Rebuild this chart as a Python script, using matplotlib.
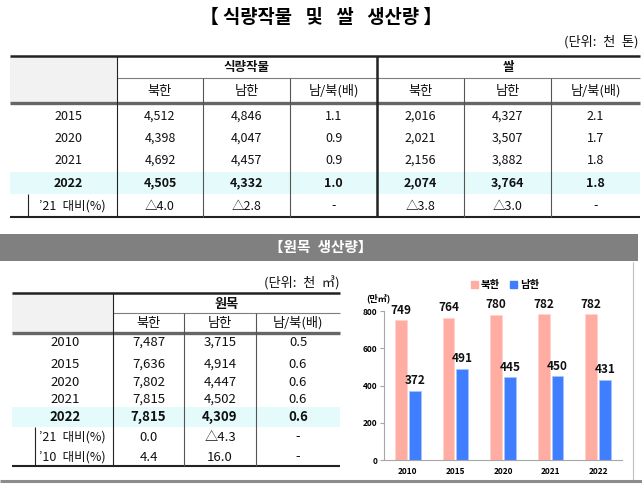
import numpy as np
import matplotlib
matplotlib.use('Agg')
import matplotlib.pyplot as plt
from matplotlib.patches import Patch, Rectangle

plt.rcParams['font.family'] = ['Noto Sans CJK KR', 'DejaVu Sans']

# 식량작물 및 쌀 생산량 (단위: 천 톤)
years1 = ['2015', '2020', '2021', '2022']
grain_north = [4512, 4398, 4692, 4505]
grain_south = [4846, 4047, 4457, 4332]
grain_ratio = [1.1, 0.9, 0.9, 1.0]
rice_north = [2016, 2021, 2156, 2074]
rice_south = [4327, 3507, 3882, 3764]
rice_ratio = [2.1, 1.7, 1.8, 1.8]
change1_label = '’21\u2002대비(%)'
change1 = ['△4.0', '△2.8', '-', '△3.8', '△3.0', '-']

# 원목 생산량 (단위: 천 ㎥)
years2 = ['2010', '2015', '2020', '2021', '2022']
wood_north = [7487, 7636, 7802, 7815, 7815]
wood_south = [3715, 4914, 4447, 4502, 4309]
wood_ratio = [0.5, 0.6, 0.6, 0.6, 0.6]
change2_labels = ['’21\u2002대비(%)', '’10\u2002대비(%)']
change2 = [['0.0', '△4.3', '-'], ['4.4', '16.0', '-']]

# 차트 (만㎥)
chart_years = ['2010', '2015', '2020', '2021', '2022']
chart_north = [749, 764, 780, 782, 782]
chart_south = [372, 491, 445, 450, 431]

sub_cols = ['북한', '남한', '남/북(배)']

W, H = 642, 486
fig = plt.figure(figsize=(W / 100, H / 100), dpi=100)
ax = fig.add_axes([0, 0, 1, 1])
ax.set_xlim(0, W)
ax.set_ylim(H, 0)
ax.axis('off')

dark = '#222222'
grey = '#7f7f7f'
fs = 9

def hline(y, x0, x1, c=dark, lw=0.8):
    ax.plot([x0, x1], [y, y], color=c, lw=lw, solid_capstyle='butt')

def vline(x, y0, y1, c=dark, lw=0.8):
    ax.plot([x, x], [y0, y1], color=c, lw=lw, solid_capstyle='butt')

def txt(x, y, s, size=fs, weight='normal', ha='center', color='#111111'):
    ax.text(x, y, s, fontsize=size, fontweight=weight, ha=ha, va='center', color=color)

# ---------- table 1 ----------
gap = '\u2002 '
title1 = '【 ' + gap.join(['식량작물', '및', '쌀', '생산량']) + ' 】'
ax.text(321, 17, title1, fontsize=13.5, fontweight='bold', ha='center', va='center', color='#000000')
txt(638, 42, '(단위:\u2002천\u2002톤)', size=9.5, ha='right')

t_top, t_mid, t_hdr, t_bot = 56, 78, 103, 217
cols1 = [117, 203, 290, 377, 464, 551, 640]
ax.add_patch(Rectangle((10, t_top), 107, t_hdr - t_top, color='#f2f2f2', lw=0))
ax.add_patch(Rectangle((10, 172), 630, 22, color='#e5fbfb', lw=0))
hline(t_top, 10, 640, lw=1.8)
hline(t_mid, 117, 640, c=grey)
hline(t_hdr, 10, 640, c='#666666', lw=2.4)
hline(t_bot, 10, 640, lw=1.5)
vline(117, t_top, t_bot)
vline(377, t_top, t_bot, lw=1.8)
for x in [203, 290, 464, 551]:
    vline(x, t_mid, t_bot, c='#555555')
vline(28, 194, t_bot)

txt((117 + 377) / 2, 67, '식량작물', weight='bold')
txt((377 + 640) / 2, 67, '쌀', weight='bold')
for g in range(2):
    for i, s in enumerate(sub_cols):
        c0, c1 = cols1[g * 3 + i], cols1[g * 3 + i + 1]
        txt((c0 + c1) / 2, 91, s, size=9.5)

row_y1 = [116, 138, 160, 183]
for r, yr in enumerate(years1):
    w = 'bold' if yr == '2022' else 'normal'
    vals = [f'{grain_north[r]:,}', f'{grain_south[r]:,}', f'{grain_ratio[r]:.1f}',
            f'{rice_north[r]:,}', f'{rice_south[r]:,}', f'{rice_ratio[r]:.1f}']
    txt(68, row_y1[r], yr, weight=w)
    for c, v in enumerate(vals):
        txt((cols1[c] + cols1[c + 1]) / 2, row_y1[r], v, weight=w)
txt(72, 206, change1_label, size=9)
for c, v in enumerate(change1):
    txt((cols1[c] + cols1[c + 1]) / 2, 206, v)

# ---------- section band ----------
ax.add_patch(Rectangle((0, 234), 638, 27, color='#808080', lw=0))
ax.text(321, 247, '【원목\u2002생산량】', fontsize=10.5, fontweight='bold',
        ha='center', va='center', color='white')

# ---------- table 2 ----------
txt(340, 283, '(단위:\u2002천\u2002㎥)', size=9.5, ha='right')
b_top, b_mid, b_hdr, b_bot = 293, 313, 333, 466
cols2 = [113, 184, 256, 340]
ax.add_patch(Rectangle((12, b_top), 101, b_hdr - b_top, color='#f2f2f2', lw=0))
ax.add_patch(Rectangle((12, 407), 328, 20, color='#e5fbfb', lw=0))
hline(b_top, 12, 340, lw=1.8)
hline(b_mid, 113, 340, c=grey)
hline(b_hdr, 12, 340, c='#666666', lw=2.4)
hline(b_bot, 12, 340, lw=1.5)
vline(113, b_top, b_bot)
for x in [184, 256]:
    vline(x, b_mid, b_bot, c='#555555')
vline(35, 427, b_bot)

txt((113 + 340) / 2, 304, '원목', weight='bold', size=9.5)
for i, s in enumerate(sub_cols):
    txt((cols2[i] + cols2[i + 1]) / 2, 323, s, size=9.5)

row_y2 = [342, 364, 382, 399, 417]
for r, yr in enumerate(years2):
    w = 'bold' if yr == '2022' else 'normal'
    vals = [f'{wood_north[r]:,}', f'{wood_south[r]:,}', f'{wood_ratio[r]:.1f}']
    txt(65, row_y2[r], yr, weight=w, size=9.5)
    for c, v in enumerate(vals):
        txt((cols2[c] + cols2[c + 1]) / 2, row_y2[r], v, weight=w, size=9.5)
for k, lab in enumerate(change2_labels):
    y = 437 + k * 20
    txt(72, y, lab, size=9)
    for c, v in enumerate(change2[k]):
        txt((cols2[c] + cols2[c + 1]) / 2, y, v, size=9.5)

# frame lines
vline(633, 262, 480, c='#bfbfbf', lw=0.8)
hline(481, 0, 642, c='#8c8c8c', lw=2.2)

# ---------- bar chart ----------
pink = '#ffada3'
blue = '#3f7fff'
cx = fig.add_axes([384 / W, (H - 460) / H, (622 - 384) / W, (460 - 311) / H])
x = np.arange(len(chart_years))
bw = 0.25
b1 = cx.bar(x - 0.146, chart_north, bw, color=pink, edgecolor='#ffd3cd', lw=0.5)
b2 = cx.bar(x + 0.146, chart_south, bw, color=blue, edgecolor='#a9c6ff', lw=0.5)
for bars in (b1, b2):
    for rect in bars:
        cx.annotate(f'{rect.get_height():.0f}', (rect.get_x() + rect.get_width() / 2, rect.get_height()),
                    xytext=(0, 2.5), textcoords='offset points', ha='center', va='bottom',
                    fontsize=8.5, fontweight='bold', color='#111111', annotation_clip=False)
cx.set_xlim(-0.5, len(chart_years) - 0.5)
cx.set_ylim(0, 800)
cx.set_yticks([0, 200, 400, 600, 800])
cx.set_xticks(x)
cx.set_xticklabels(chart_years)
for s in ['top', 'right']:
    cx.spines[s].set_visible(False)
for s in ['left', 'bottom']:
    cx.spines[s].set_color('#a6a6a6')
    cx.spines[s].set_linewidth(0.8)
cx.tick_params(axis='y', length=3, color='#a6a6a6', labelsize=6, pad=2)
cx.tick_params(axis='x', length=0, labelsize=6, pad=5)
for lab in cx.get_xticklabels() + cx.get_yticklabels():
    lab.set_fontweight('bold')
cx.set_facecolor('none')
ax.text(366, 298, '(만㎥)', fontsize=6.5, fontweight='bold', ha='left', va='center')
fig.legend(handles=[Patch(color=pink, label='북한'), Patch(color=blue, label='남한')],
           loc='center', bbox_to_anchor=(505 / W, (H - 285) / H), ncol=2, frameon=False,
           handlelength=0.7, handleheight=0.7, handletextpad=0.3, columnspacing=0.9,
           prop={'size': 7.5, 'weight': 'bold'})

fig.savefig('out.png', dpi=100)
